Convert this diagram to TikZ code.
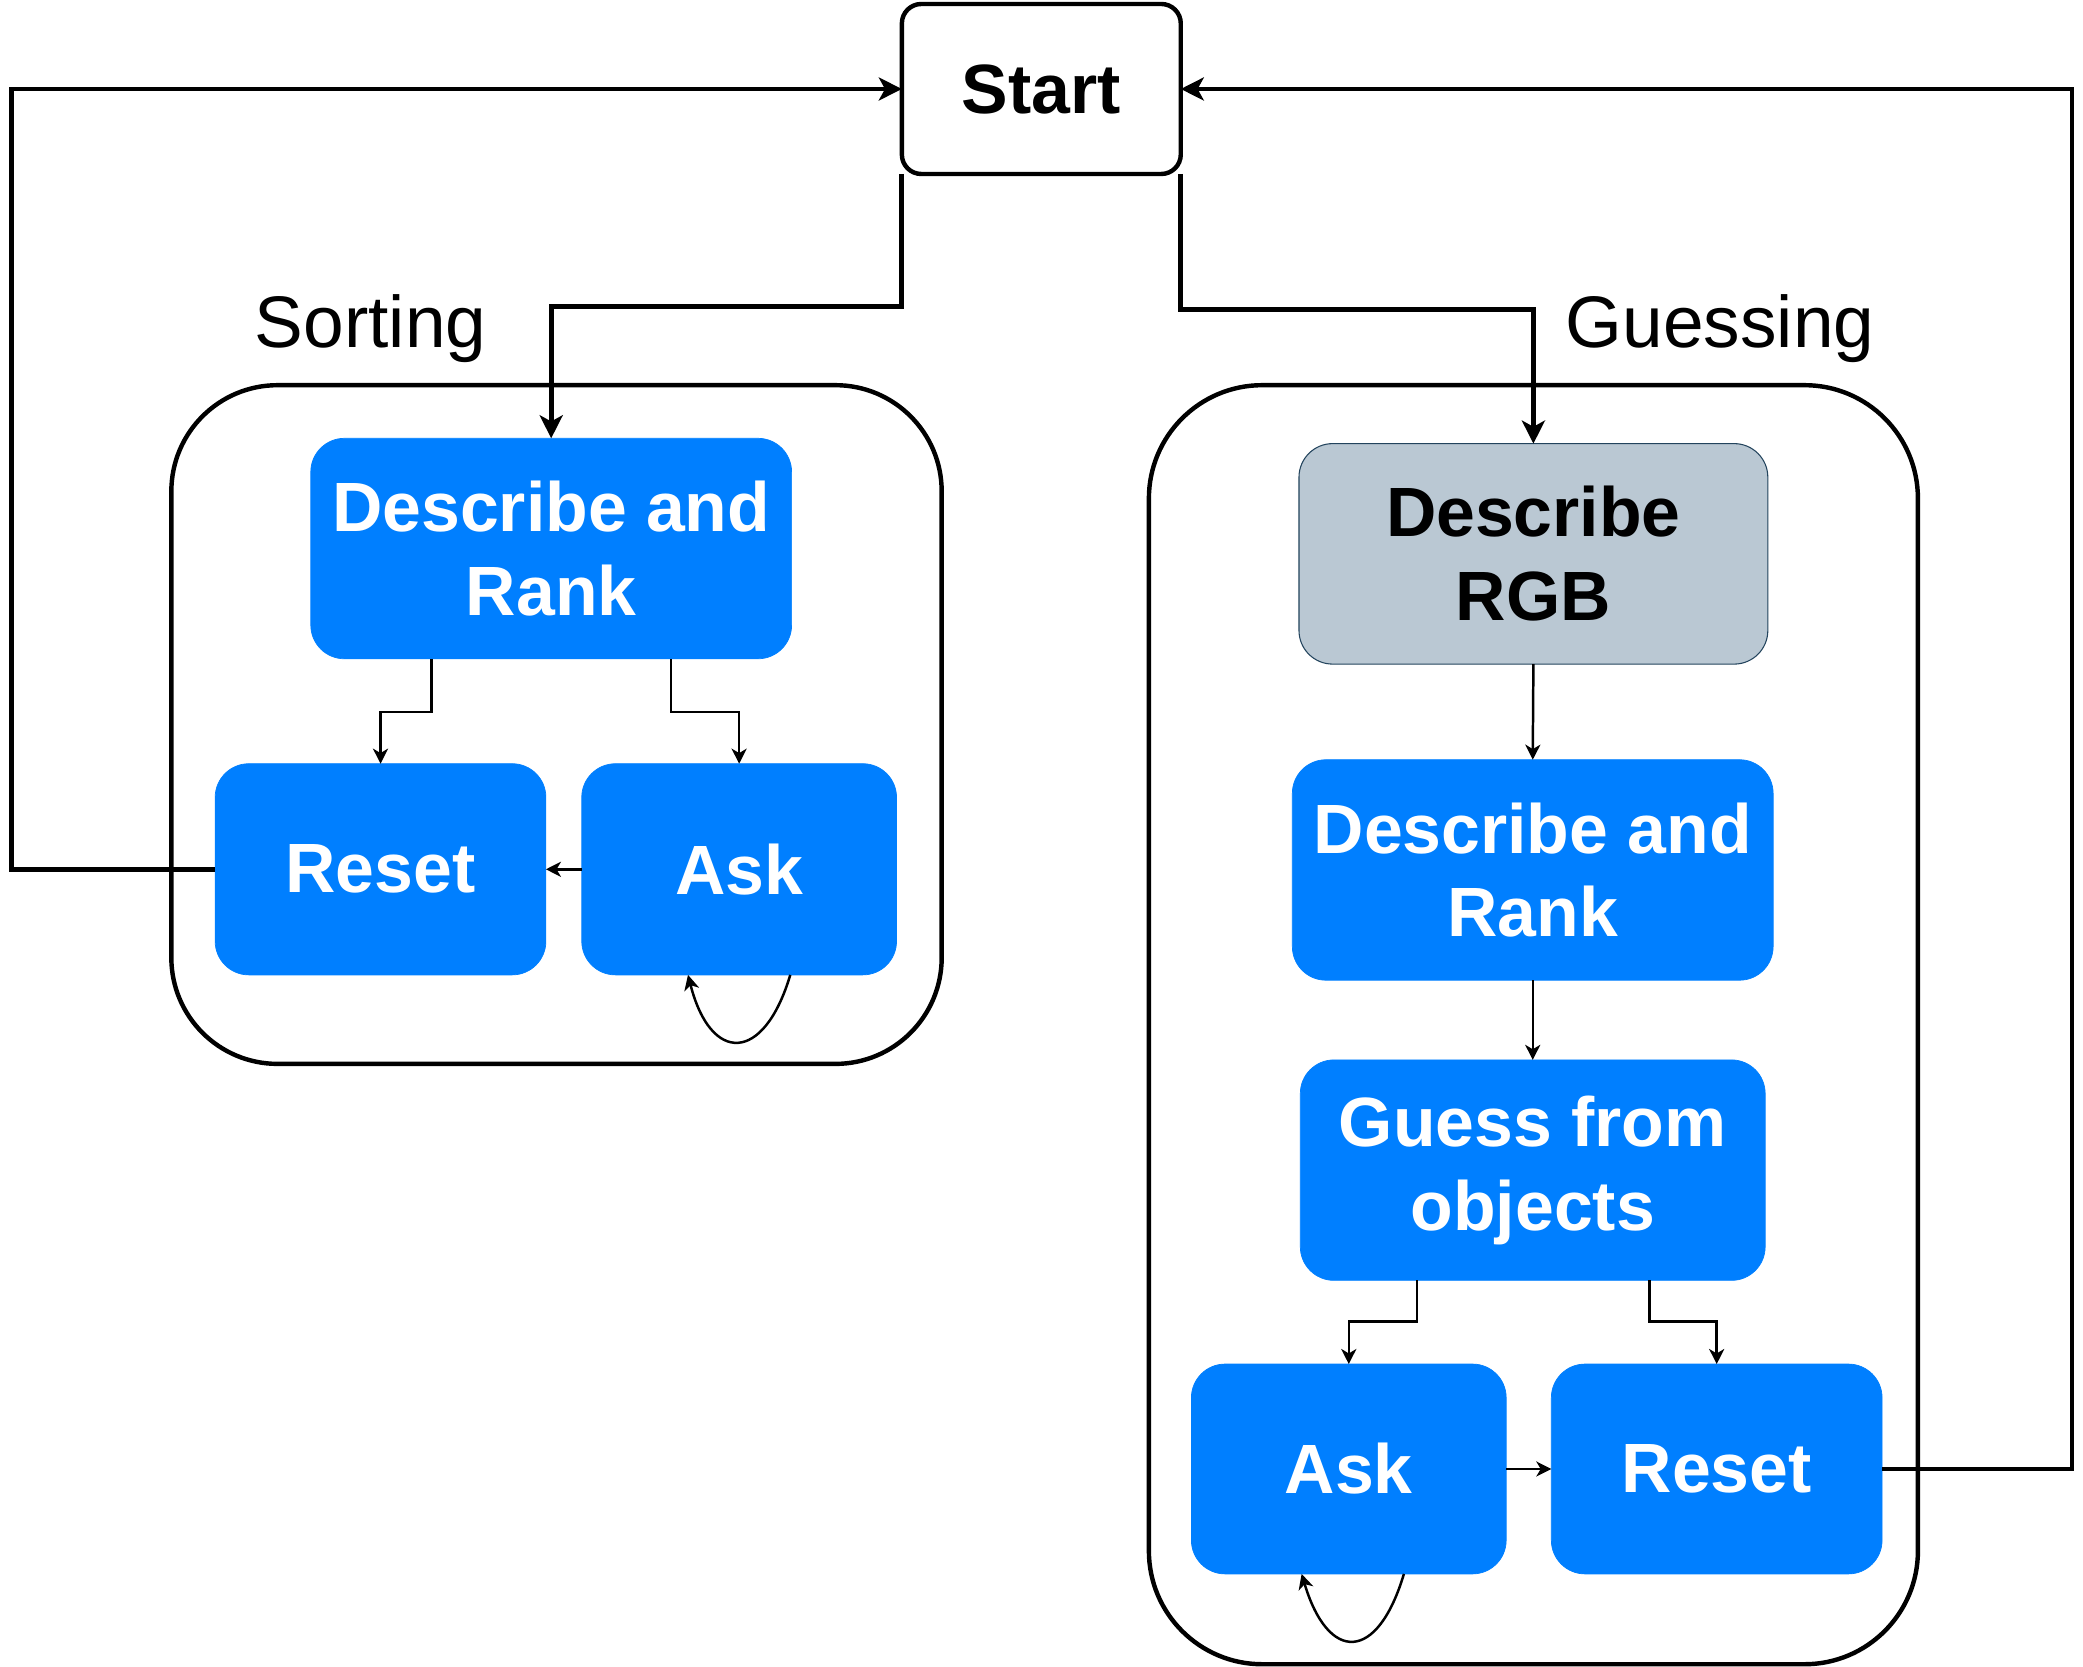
\documentclass[tikz,border=0pt]{standalone}
\usepackage{fontspec}
\setmainfont{Liberation Sans}
\usetikzlibrary{arrows.meta}
\definecolor{myblue}{HTML}{007FFF}
\definecolor{rgbfill}{HTML}{BAC8D3}
\definecolor{rgbdraw}{HTML}{23445D}
\tikzset{
  bx/.style={rectangle, rounded corners=19pt, fill=myblue, draw=myblue, text=white,
    font=\bfseries\fontsize{39.4}{47.25}\selectfont, align=center, inner sep=0pt, outer sep=0pt},
  grp/.style={rectangle, draw=black, line width=2.5pt, inner sep=0pt, outer sep=0pt},
  thickarrow/.style={line width=2.8pt, -{Stealth[length=13pt,width=13pt,inset=3.5pt]}},
  thinarrow/.style={line width=1.4pt, -{Stealth[length=8.5pt,width=8.5pt,inset=2.5pt]}},
  grplabel/.style={font=\fontsize{41.25}{49}\selectfont, anchor=base, inner sep=0pt}
}
\begin{document}
\begin{tikzpicture}[x=0.75pt,y=-0.75pt]
\useasboundingbox (0,0) rectangle (1568.3,1255);
% containers
\node[grp, rounded corners=60pt, minimum width=435pt, minimum height=383.25pt] (sortbox) at (419,545.5) {};
\node[grp, rounded corners=64pt, minimum width=434.25pt, minimum height=722.25pt] (guessbox) at (1154.5,771.5) {};
\node[grplabel] (sortlbl) at (279,262) {Sorting};
\node[grplabel] (guesslbl) at (1295,262) {Guessing};
% start
\node[rectangle, rounded corners=11pt, draw=black, fill=white, line width=2.5pt, inner sep=0pt, outer sep=0pt,
  minimum width=157.5pt, minimum height=96pt, font=\bfseries\fontsize{39.4}{47.25}\selectfont] (start) at (784,67) {Start};
% sorting boxes
\node[bx, minimum width=271.5pt, minimum height=124.5pt] (drL) at (415,413) {Describe and\\Rank};
\node[bx, minimum width=186.75pt, minimum height=119.25pt] (resetL) at (286.5,654.5) {Reset};
\node[bx, minimum width=177.75pt, minimum height=119.25pt] (askL) at (556.5,654.5) {Ask};
% guessing boxes
\node[bx, fill=rgbfill, draw=rgbdraw, line width=0.6pt, text=black, minimum width=264.75pt, minimum height=124.5pt] (rgb) at (1154.5,417) {Describe\\RGB};
\node[bx, minimum width=271.5pt, minimum height=124.5pt] (drR) at (1154,655) {Describe and\\Rank};
\node[bx, minimum width=262.5pt, minimum height=124.5pt] (guess) at (1154,881) {Guess from\\objects};
\node[bx, minimum width=177.75pt, minimum height=118.5pt] (askR) at (1015.5,1106) {Ask};
\node[bx, minimum width=186.75pt, minimum height=118.5pt] (resetR) at (1292.5,1106) {Reset};
% start branches
\draw[thickarrow] (start.south west) -- (679,231) -| (drL.north);
\draw[thickarrow] (start.south east) -- (889,233) -| (rgb.north);
% returns
\draw[thickarrow] (resetL.west) -- (9,654.5) |- (start.west);
\draw[thickarrow] (resetR.east) -- (1560,1106) |- (start.east);
% sorting internal
\draw[thinarrow] (325,0 |- drL.south) -- (325,536) -| (resetL.north);
\draw[thinarrow] (505,0 |- drL.south) -- (505,536) -| (askL.north);
\draw[thinarrow] (askL.west) -- (resetL.east);
\draw[thinarrow] (595,0 |- askL.south) .. controls (575,801) and (535,801) .. (518,0 |- askL.south);
% guessing internal
\draw[thinarrow] (rgb.south) -- (drR.north);
\draw[thinarrow] (drR.south) -- (guess.north);
\draw[thinarrow] (1067,0 |- guess.south) -- (1067,995) -| (askR.north);
\draw[thinarrow] (1242,0 |- guess.south) -- (1242,995) -| (resetR.north);
\draw[thinarrow] (askR.east) -- (resetR.west);
\draw[thinarrow] (1057,0 |- askR.south) .. controls (1037,1252) and (1000,1252) .. (980,0 |- askR.south);
\end{tikzpicture}
\end{document}
